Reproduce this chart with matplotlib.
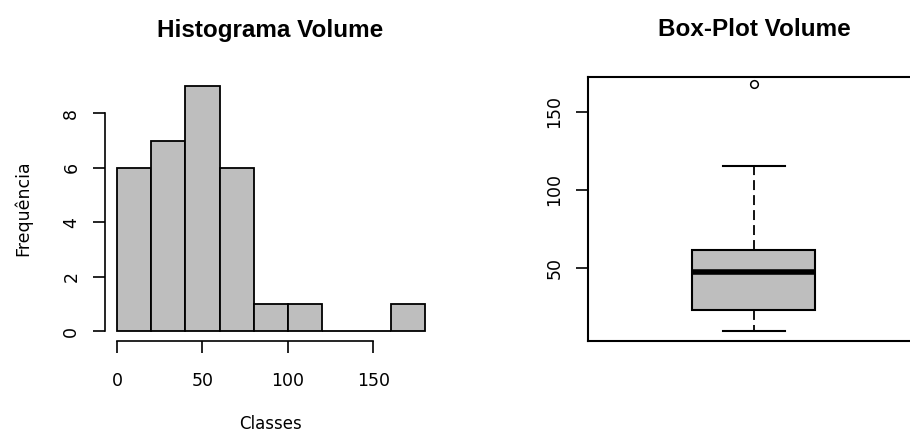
import numpy as np
import matplotlib.pyplot as plt

volume = [9.6, 11.5, 13.2, 15.4, 17.0, 19.0,
          21.3, 22.4, 23.4, 26.5, 29.8, 33.6, 37.9,
          41.0, 44.5, 47.2, 49.8, 51.7, 53.6, 55.2, 56.8, 58.9,
          61.0, 62.0, 66.5, 70.4, 73.6, 77.8,
          88.6, 115.4, 167.7]
breaks = np.arange(0, 181, 20)
hist_xticks = [0, 50, 100, 150]
hist_yticks = [0, 2, 4, 6, 8]
box_yticks = [50, 100, 150]

plt.rcParams['font.family'] = 'DejaVu Sans'
gray = '#bebebe'

fig = plt.figure(figsize=(9.1, 4.34), dpi=100)
W, H = 910, 434

def rect(l, t, r, b):
    return [l / W, 1 - b / H, (r - l) / W, (b - t) / H]

# ---- histogram
ax1 = fig.add_axes(rect(104.7, 76.4, 437, 340.8))
ax1.hist(volume, bins=breaks, color=gray, edgecolor='black', linewidth=1.3)
ax1.set_xlim(-7.2, 187.2)
ax1.set_ylim(-0.36, 9.36)
for s in ['top', 'right']:
    ax1.spines[s].set_visible(False)
ax1.spines['left'].set_bounds(0, 8)
ax1.spines['bottom'].set_bounds(0, 150)
ax1.spines['left'].set_linewidth(1.2)
ax1.spines['bottom'].set_linewidth(1.2)
ax1.set_xticks(hist_xticks)
ax1.set_yticks(hist_yticks)
ax1.tick_params(axis='both', direction='out', length=8.6, width=1.2, labelsize=12.5)
ax1.tick_params(axis='x', pad=14)
ax1.tick_params(axis='y', pad=9)
plt.setp(ax1.get_yticklabels(), rotation=90, va='center')
ax1.set_xlabel('Classes', fontsize=12)
ax1.xaxis.set_label_coords(0.5, (340.8 - 424) / 264.4)
ax1.xaxis.label.set_va('center')
ax1.set_ylabel('Frequência', fontsize=12.5)
ax1.yaxis.set_label_coords((23 - 104.7) / 332.3, 0.5)
ax1.yaxis.label.set_va('center')
fig.text(270 / W, 1 - 30 / H, 'Histograma Volume', ha='center', va='center',
         fontsize=17.5, fontweight='bold', family='Liberation Sans')

# ---- box plot
ax2 = fig.add_axes(rect(587.7, 76.7, 920, 341))
ax2.boxplot(volume, widths=0.371, capwidths=0.1875, patch_artist=True,
            boxprops=dict(facecolor=gray, edgecolor='black', linewidth=1.5),
            medianprops=dict(color='black', linewidth=4),
            whiskerprops=dict(color='black', linewidth=1.3, linestyle=(0, (5.5, 2.8))),
            capprops=dict(color='black', linewidth=1.5),
            flierprops=dict(marker='o', markerfacecolor='none', markeredgecolor='black',
                            markersize=5.5, markeredgewidth=1.1))
ax2.set_xlim(0.5, 1.5)
ax2.set_ylim(3.0, 172.4)
ax2.set_xticks([])
ax2.set_yticks(box_yticks)
for s in ax2.spines.values():
    s.set_linewidth(1.5)
ax2.tick_params(axis='y', direction='out', length=8.6, width=1.2, labelsize=12.5, pad=9)
plt.setp(ax2.get_yticklabels(), rotation=90, va='center')
fig.text(754 / W, 1 - 30 / H, 'Box-Plot Volume', ha='center', va='center',
         fontsize=17.5, fontweight='bold', family='Liberation Sans')

fig.savefig('out.png', dpi=100)
